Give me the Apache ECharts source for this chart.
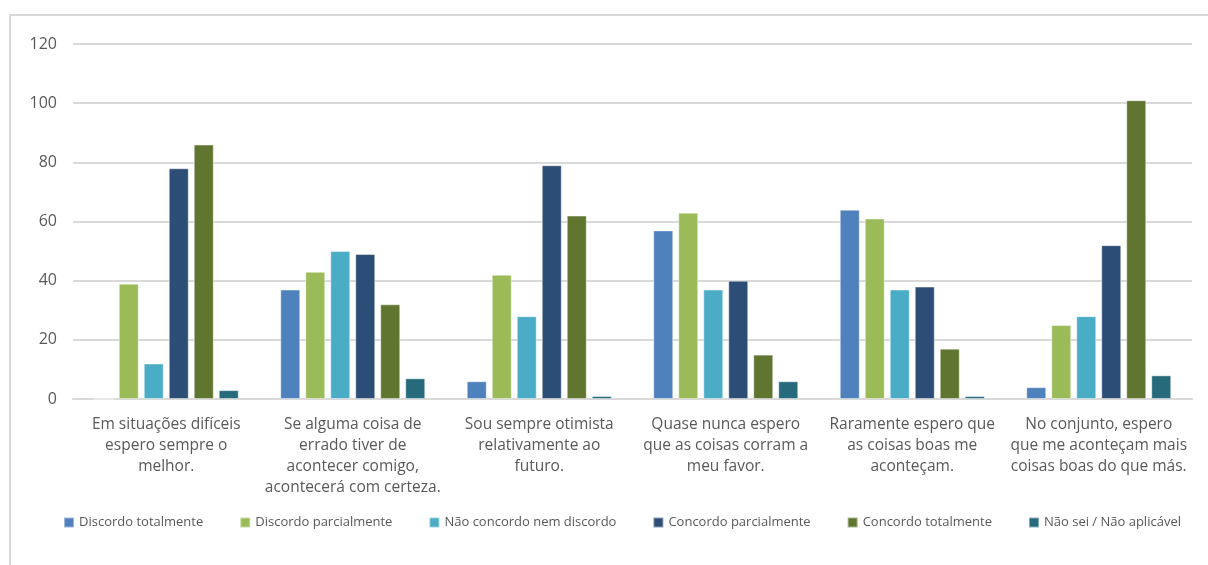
<!DOCTYPE html>
<html>
<head>
<meta charset="utf-8">
<script src="https://cdn.jsdelivr.net/npm/echarts@6/dist/echarts.min.js"></script>
<style>
  html, body { margin: 0; padding: 0; background: #fff; }
  #frame { position: absolute; left: 9px; top: 14px; width: 1199px; height: 551px;
           border-left: 2px solid #d9d9d9; border-top: 2px solid #d9d9d9; }
  #main { position: absolute; left: 0; top: 0; width: 1208px; height: 565px; }
</style>
</head>
<body>
<div id="frame"></div>
<div id="main"></div>
<script>
// categorias (afirmações)
var categories = [
  'Em situações difíceis\nespero sempre o\nmelhor.',
  'Se alguma coisa de\nerrado tiver de\nacontecer comigo,\nacontecerá com certeza.',
  'Sou sempre otimista\nrelativamente ao\nfuturo.',
  'Quase nunca espero\nque as coisas corram a\nmeu favor.',
  'Raramente espero que\nas coisas boas me\naconteçam.',
  'No conjunto, espero\nque me aconteçam mais\ncoisas boas do que más.'
]
var seriesNames = ['Discordo totalmente', 'Discordo parcialmente', 'Não concordo nem discordo',
  'Concordo parcialmente', 'Concordo totalmente', 'Não sei / Não aplicável']
var discordoTotal = [0, 37, 6, 57, 64, 4]
var discordoParcial = [39, 43, 42, 63, 61, 25]
var neutro = [12, 50, 28, 37, 37, 28]
var concordoParcial = [78, 49, 79, 40, 38, 52]
var concordoTotal = [86, 32, 62, 15, 17, 101]
var naoSei = [3, 7, 1, 6, 1, 8]
var colors = ['#4f81bd', '#9bbb59', '#4bacc6', '#2c4d75', '#5f7530', '#276a7c']

var allData = [discordoTotal, discordoParcial, neutro, concordoParcial, concordoTotal, naoSei]
var series = allData.map(function (d, i) {
  return {
    name: seriesNames[i],
    type: 'bar',
    data: d,
    barWidth: 20,
    barGap: '25%',
    itemStyle: { color: colors[i], borderColor: 'rgba(255,255,255,0.45)', borderWidth: 1 }
  }
})

var chart = echarts.init(document.getElementById('main'))
var font = '"Open Sans", "Liberation Sans", sans-serif'
chart.setOption({
  textStyle: { fontFamily: font },
  animation: false,
  color: colors,
  grid: { left: 73, right: 16, top: 44, bottom: 166, containLabel: false },
  legend: {
    data: seriesNames,
    bottom: 31,
    left: 58,
    itemWidth: 10,
    itemHeight: 10,
    itemGap: 36,
    icon: 'rect',
    textStyle: { color: '#595959', fontSize: 13, fontFamily: font }
  },
  xAxis: {
    type: 'category',
    data: categories,
    axisLine: { lineStyle: { color: '#d9d9d9', width: 2 } },
    axisTick: { show: false },
    axisLabel: { color: '#595959', fontSize: 15.5, lineHeight: 21, margin: 15, interval: 0, fontFamily: font }
  },
  yAxis: {
    type: 'value',
    min: 0,
    max: 120,
    interval: 20,
    axisLine: { show: false },
    axisTick: { show: false },
    splitLine: { lineStyle: { color: '#d9d9d9', width: 2 } },
    axisLabel: { color: '#595959', fontSize: 16, margin: 16, fontFamily: font }
  },
  series: series
})
</script>
</body>
</html>
